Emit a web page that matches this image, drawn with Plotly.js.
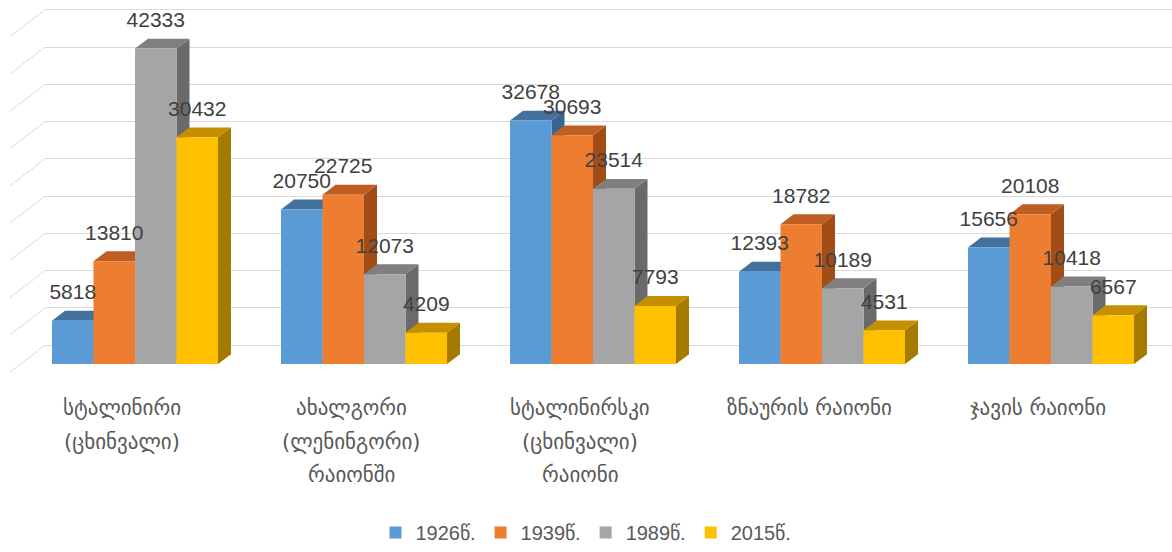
<!DOCTYPE html>
<html>
<head>
<meta charset="utf-8">
<script src="https://cdn.plot.ly/plotly-3.0.1.min.js"></script>
<style>html,body{margin:0;padding:0;background:#fff}#chart{width:1172px;height:552px}</style>
</head>
<body>
<div id="chart"></div>
<script>
// ---- data ----
const categories = [
  'სტალინირი<br>(ცხინვალი)',
  'ახალგორი<br>(ლენინგორი)<br>რაიონში',
  'სტალინირსკი<br>(ცხინვალი)<br>რაიონი',
  'ზნაურის რაიონი',
  'ჯავის რაიონი'
];
const seriesNames = ['1926წ.', '1939წ.', '1989წ.', '2015წ.'];
const v1926 = [5818, 20750, 32678, 12393, 15656];
const v1939 = [13810, 22725, 30693, 18782, 20108];
const v1989 = [42333, 12073, 23514, 10189, 10418];
const v2015 = [30432, 4209, 7793, 4531, 6567];
const seriesValues = [v1926, v1939, v1989, v2015];
const gridStep = 5000;
const gridMax = 45000;

// ---- styling / geometry (pixels) ----
const W = 1172, H = 552, PLOT_H = 380;
const GROUP0 = 135, PITCH = 229, BAR = 41.5;
const DDX = 13, DDY = 10;              // bar depth offset
const BASE = 367, PX5000 = 37.56;      // front base & scale
const WALL_BASE = 348, WALL_LEFT = 45, SIDE_FRONT_X = 10, FLOOR_FRONT = 375;
const frontColors = ['#5B9BD5', '#ED7D31', '#A5A5A5', '#FFC000'];
const topColors   = ['#41719C', '#BE5E23', '#7F7F7F', '#C49000'];
const sideColors  = ['#3A6590', '#A24C18', '#6A6A6A', '#A47B00'];

const s = PX5000 / gridStep;                 // px per unit
const ux = 1 / PITCH;                        // category units per px
const bw = BAR * ux, dxU = DDX * ux, dyU = DDY / s;

const traces = [];

// empty trace so the back-wall subplot (with its gridlines) is drawn
traces.push({type: 'scatter', mode: 'markers', x: [0.5], y: [null], xaxis: 'x', yaxis: 'y',
  hoverinfo: 'skip', showlegend: false});

// left side-wall diagonals
const dgx = [], dgy = [];
for (let t = 0; t <= gridMax; t += gridStep) {
  dgx.push((SIDE_FRONT_X - GROUP0) * ux, (WALL_LEFT - GROUP0) * ux, null);
  dgy.push(t + (BASE - FLOOR_FRONT) / s, t + (BASE - WALL_BASE) / s, null);
}
traces.push({type: 'scatter', mode: 'lines', x: dgx, y: dgy, xaxis: 'x2', yaxis: 'y2',
  line: {color: '#d9d9d9', width: 1}, hoverinfo: 'skip', showlegend: false, zorder: -1});

const nS = seriesValues.length;
seriesValues.forEach((vals, si) => {
  const off = -nS / 2 * bw + si * bw;
  const sx = [], sy = [], tx = [], ty = [];
  vals.forEach((v, g) => {
    const L = g + off, R = L + bw;
    sx.push(R, R + dxU, R + dxU, R, R, null);
    sy.push(0, dyU, v + dyU, v, 0, null);
    tx.push(L, L + dxU, R + dxU, R, L, null);
    ty.push(v, v + dyU, v + dyU, v, v, null);
  });
  traces.push({type: 'scatter', mode: 'lines', x: sx, y: sy, xaxis: 'x2', yaxis: 'y2',
    fill: 'toself', fillcolor: sideColors[si], line: {width: 0, color: sideColors[si]},
    hoverinfo: 'skip', showlegend: false, zorder: 3 * si});
  traces.push({type: 'scatter', mode: 'lines', x: tx, y: ty, xaxis: 'x2', yaxis: 'y2',
    fill: 'toself', fillcolor: topColors[si], line: {width: 0, color: topColors[si]},
    hoverinfo: 'skip', showlegend: false, zorder: 3 * si});
  traces.push({type: 'bar', name: seriesNames[si], x: vals.map((_, g) => g), y: vals,
    xaxis: 'x2', yaxis: 'y2', width: bw, offset: off,
    marker: {color: frontColors[si], line: {width: 0}}, zorder: 3 * si + 1});
});

// data labels
seriesValues.forEach((vals, si) => {
  const off = -nS / 2 * bw + si * bw + bw / 2;
  traces.push({type: 'scatter', mode: 'text', x: vals.map((_, g) => g + off),
    y: vals.map(v => v + 27 / s), text: vals.map(String), textposition: 'middle center',
    textfont: {family: 'Liberation Sans, Arial, sans-serif', size: 21, color: '#404040'},
    xaxis: 'x2', yaxis: 'y2', hoverinfo: 'skip', showlegend: false, zorder: 100});
});

// category labels
const annotations = [];
categories.forEach((c, g) => {
  c.split('<br>').forEach((line, li) => {
    annotations.push({text: line, xref: 'x2', yref: 'paper', x: g, y: 0,
      xanchor: 'center', yanchor: 'middle', xshift: -13, yshift: -(31 + li * 33.5),
      showarrow: false, font: {family: 'DejaVu Sans, sans-serif', size: 21, color: '#595959'}});
  });
});

const layout = {
  width: W, height: H,
  margin: {l: 0, r: 0, t: 0, b: H - PLOT_H, pad: 0},
  paper_bgcolor: '#ffffff', plot_bgcolor: 'rgba(0,0,0,0)',
  barmode: 'overlay',
  showlegend: true,
  xaxis: {domain: [WALL_LEFT / W, 1], range: [0, 1], showgrid: false,
    zeroline: false, showticklabels: false, showline: false, ticks: '', fixedrange: true},
  yaxis: {range: [(WALL_BASE - PLOT_H) / s, WALL_BASE / s], tick0: 0, dtick: gridStep,
    showgrid: true, gridcolor: '#d9d9d9', gridwidth: 1, zeroline: false,
    showticklabels: false, showline: false, ticks: '', fixedrange: true},
  xaxis2: {domain: [0, 1], anchor: 'y2', range: [-GROUP0 * ux, (W - GROUP0) * ux],
    showgrid: false, zeroline: false, showticklabels: false, showline: false, ticks: '', fixedrange: true},
  yaxis2: {domain: [0, 1], anchor: 'x2', range: [(BASE - PLOT_H) / s, BASE / s],
    showgrid: false, zeroline: false, showticklabels: false, showline: false, ticks: '', fixedrange: true},
  legend: {orientation: 'h', x: 0.5, xanchor: 'center', y: (PLOT_H - 537) / PLOT_H, yanchor: 'middle',
    font: {family: 'Liberation Sans, Arial, sans-serif', size: 20, color: '#595959'},
    itemwidth: 30, traceorder: 'normal'},
  annotations: annotations
};

Plotly.newPlot('chart', traces, layout, {displayModeBar: false, staticPlot: true});
</script>
</body>
</html>
